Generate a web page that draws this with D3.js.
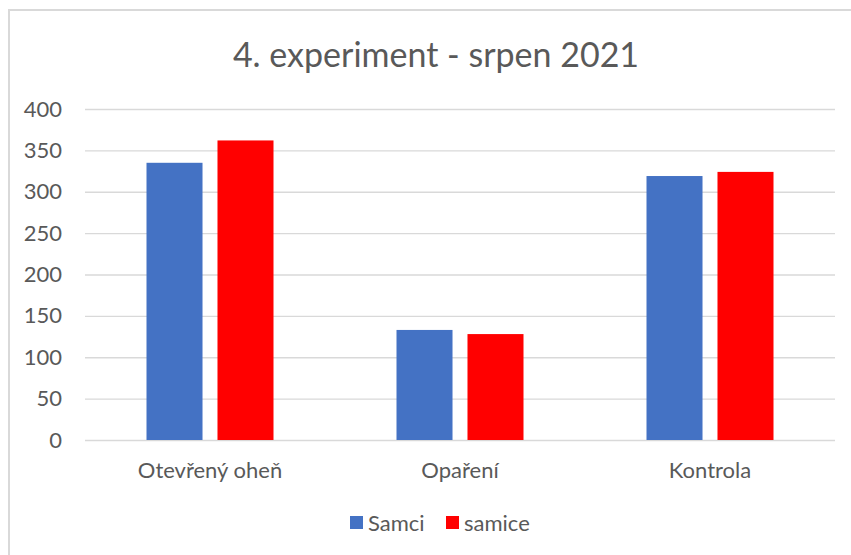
<!DOCTYPE html>
<html><head><meta charset="utf-8">
<script src="https://cdn.jsdelivr.net/npm/d3@7"></script>
<style>body{margin:0;background:#fff}svg text{font-family:Lato,"Open Sans",sans-serif;fill:#595959}</style>
</head><body>
<svg id="c" width="851" height="555"></svg>
<script>
const categories = ["Otevřený oheň", "Opaření", "Kontrola"];
const seriesNames = ["Samci", "samice"];
const samci = [335, 133, 319];
const samice = [362, 128, 324];
const yTicks = [0, 50, 100, 150, 200, 250, 300, 350, 400];
const colors = ["#4472C4", "#FF0000"];
const title = "4. experiment - srpen 2021";

(function(){
const svg = d3.select("#c");
svg.append("path").attr("d","M9,555 V10 H851").attr("fill","none")
  .attr("stroke","#d9d9d9").attr("stroke-width",2);

const mLeft = 85, mRight = 835, mTop = 109, mBottom = 440;
const y = d3.scaleLinear().domain([0,400]).range([mBottom, mTop]);
const x0 = d3.scaleBand().domain(categories).range([mLeft,mRight]);
const x1 = d3.scaleBand().domain(seriesNames).range([0,127]).paddingInner(0.211);

const yAxis = d3.axisLeft(y).tickValues(yTicks).tickSize(-(mRight-mLeft)).tickPadding(23);
const gy = svg.append("g").attr("transform",`translate(${mLeft},0)`).call(yAxis);
gy.select(".domain").remove();
gy.selectAll("line").attr("stroke","#d9d9d9").attr("stroke-width",1.3);
gy.selectAll("text").style("font-size","22px").attr("fill","#595959");

const data = [samci, samice];
const g = svg.append("g");
categories.forEach((c,i)=>{
  seriesNames.forEach((s,j)=>{
    const v = data[j][i];
    g.append("rect")
      .attr("x", x0(c) + (x0.bandwidth()-127)/2 + x1(s))
      .attr("width", x1.bandwidth())
      .attr("y", y(v)).attr("height", y(0)-y(v))
      .attr("fill", colors[j]);
  });
});

const xAxis = d3.axisBottom(x0).tickSize(0).tickPadding(22);
const gx = svg.append("g").attr("transform",`translate(0,${mBottom})`).call(xAxis);
gx.select(".domain").remove();
gx.selectAll("text").style("font-size","22px").attr("fill","#595959");

svg.append("text").attr("x",436).attr("y",67).attr("text-anchor","middle")
  .style("font-size","34px").text(title);

const lg = svg.append("g");
const legendX = [350, 446];
seriesNames.forEach((s,j)=>{
  lg.append("rect").attr("x",legendX[j]).attr("y",516).attr("width",13).attr("height",13).attr("fill",colors[j]);
  lg.append("text").attr("x",legendX[j]+18).attr("y",531).style("font-size","22px").text(s);
});
})();
</script>
</body></html>
